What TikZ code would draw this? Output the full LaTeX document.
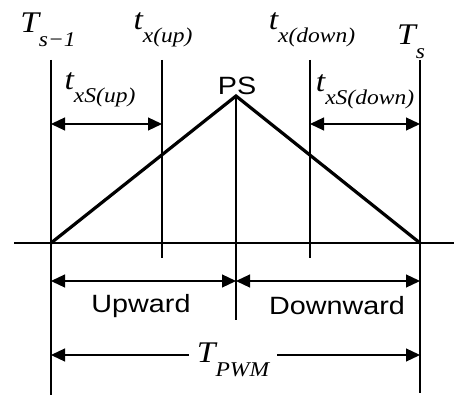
\documentclass[tikz,border=0pt]{standalone}
\usepackage{fontspec}
\setmainfont{Liberation Serif}
\newfontfamily\tms[FakeStretch=1.12]{Liberation Serif}
\newfontfamily\arl[FakeStretch=1.15]{Liberation Sans}
\usetikzlibrary{arrows.meta}
\newcommand{\lsub}[1]{\raisebox{-0.45em}{\fontsize{10.5pt}{11pt}\selectfont #1}}
\tikzset{
  guide/.style={line width=0.6pt},
  dim/.style={line width=0.6pt, {Triangle[length=7pt,width=6.5pt]}-{Triangle[length=7pt,width=6.5pt]}},
  wave/.style={line width=1.6pt, line join=miter},
  ilabel/.style={font=\tms\itshape\fontsize{15pt}{16pt}\selectfont, inner sep=1pt},
  slabel/.style={font=\arl\fontsize{12.5pt}{13pt}\selectfont, inner sep=1pt},
}
\begin{document}
\begin{tikzpicture}[x=0.5pt,y=-0.5pt]
\useasboundingbox (0,0) rectangle (454,395);
% key coordinates
\coordinate (A) at (51,243);
\coordinate (P) at (236,96);
\coordinate (B) at (420,243);
\coordinate (L0) at (51,60);   \coordinate (L1) at (51,395);
\coordinate (U0) at (162,60);  \coordinate (U1) at (162,258);
\coordinate (C1) at (236,320);
\coordinate (D0) at (310,60);  \coordinate (D1) at (310,258);
\coordinate (R0) at (420,60);  \coordinate (R1) at (420,393);
\coordinate (X0) at (14,243);  \coordinate (X1) at (454,243);
% guides
\draw[guide] (L0) -- (L1);
\draw[guide] (U0) -- (U1);
\draw[guide] (P) -- (C1);
\draw[guide] (D0) -- (D1);
\draw[guide] (R0) -- (R1);
\draw[guide] (X0) -- (X1);
% triangle carrier
\draw[wave] (A) -- (P) -- (B);
% dimension arrows
\coordinate (a1) at (51,124);  \coordinate (a2) at (162,124);
\coordinate (b1) at (310,124); \coordinate (b2) at (420,124);
\coordinate (c1) at (51,281);  \coordinate (c2) at (236,281);
\coordinate (c3) at (420,281);
\coordinate (d1) at (51,355);  \coordinate (d2) at (420,355);
\draw[dim] (a1) -- (a2);
\draw[dim] (b1) -- (b2);
\draw[dim] (c1) -- (c2);
\draw[dim] (c2) -- (c3);
\draw[dim] (d1) -- (d2);
% labels
\node[ilabel] (ts1) at (48,30) {T\lsub{s−1}};
\node[ilabel] (txu) at (163,30) {t\lsub{x(up)}};
\node[ilabel] (txd) at (312,30) {t\lsub{x(down)}};
\node[ilabel] (ts) at (411,42) {T\lsub{s}};
\node[slabel] (ps) at (237,86) {PS};
\node[ilabel] (txsu) at (100,90) {t\lsub{xS(up)}};
\node[ilabel] (txsd) at (365,92) {t\lsub{xS(down)}};
\node[slabel] (up) at (141,306) {Upward};
\node[slabel] (down) at (337,306) {Downward};
\node[ilabel, fill=white, inner xsep=4pt] (tpwm) at (233,360) {T\lsub{PWM}};
\end{tikzpicture}
\end{document}
